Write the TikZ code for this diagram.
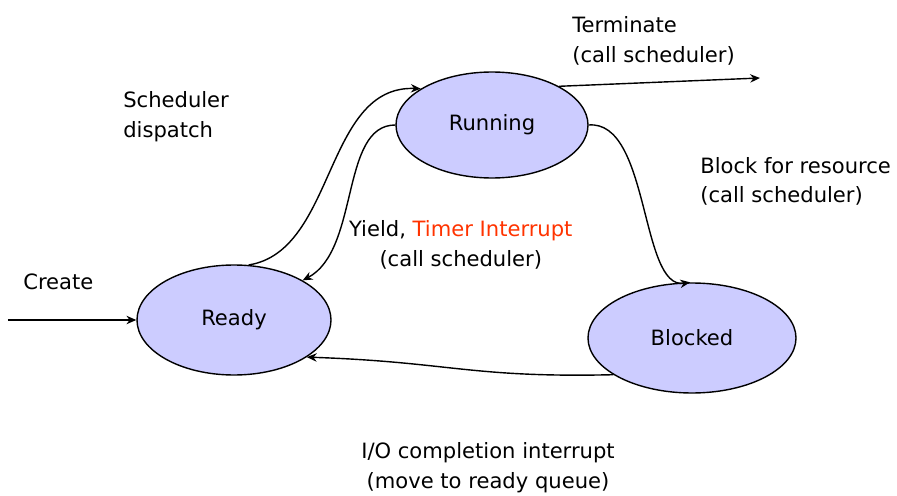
\documentclass[tikz,border=0pt]{standalone}
\usepackage{fontspec}
\setmainfont{DejaVu Sans}
\usepackage{tikz}
\usetikzlibrary{shapes.geometric, arrows.meta, positioning}
\definecolor{statefill}{HTML}{CCCCFF}
\definecolor{timerred}{HTML}{FF3300}

\begin{document}
\begin{tikzpicture}[
    procstate/.style={ellipse, draw=black, line width=1pt, fill=statefill, inner sep=0pt, font=\fontsize{15}{21.3}\selectfont},
    note/.style={inner sep=0pt, font=\fontsize{15}{21.3}\selectfont},
    trans/.style={line width=1pt, -{Stealth[length=7pt, width=6pt]}}
]
    \useasboundingbox (0,0) rectangle (22.425,12.375);

    % States
    \node[procstate, minimum width=4.8cm, minimum height=2.65cm] (run) at (12.3, 9.25) {Running};
    \node[procstate, minimum width=4.85cm, minimum height=2.75cm] (rdy) at (5.85, 4.375) {Ready};
    \node[procstate, minimum width=5.2cm, minimum height=2.75cm] (blk) at (17.3, 3.925) {Blocked};

    % Free ends
    \coordinate (crt) at (0.2, 4.375);
    \coordinate (term) at (19.0, 10.425);

    % Labels
    \node[note, anchor=base west] (crtlbl) at (0.575, 5.15) {Create};
    \node[note, anchor=west, align=left] (displbl) at (3.075, 9.45) {Scheduler\\dispatch};
    \node[note, anchor=west, align=left] (termlbl) at (14.3, 11.36) {Terminate\\(call scheduler)};
    \node[note, anchor=west, align=left] (blklbl) at (17.5, 7.84) {Block for resource\\(call scheduler)};
    \node[note, align=center] (yldlbl) at (11.52, 6.26) {Yield, \textcolor{timerred}{Timer Interrupt}\\(call scheduler)};
    \node[note, align=center] (iolbl) at (12.2, 0.675) {I/O completion interrupt\\(move to ready queue)};

    % Transitions
    \draw[trans] (crt) -- (rdy.west);
    \draw[trans] (rdy.75) .. controls (8.4, 6.1) and (8.1, 10.25) .. (run.153);
    \draw[trans] (run.west) .. controls (8.5, 9.25) and (9.0, 6.125) .. (rdy.30);
    \draw[trans] (run.30) -- (term);
    \draw[trans] (run.east) .. controls (16.25, 9.375) and (16.0, 5.125) .. (blk.92);
    \draw[trans] (blk.205) .. controls (11.75, 2.925) and (11.25, 3.325) .. (rdy.333);
\end{tikzpicture}
\end{document}
